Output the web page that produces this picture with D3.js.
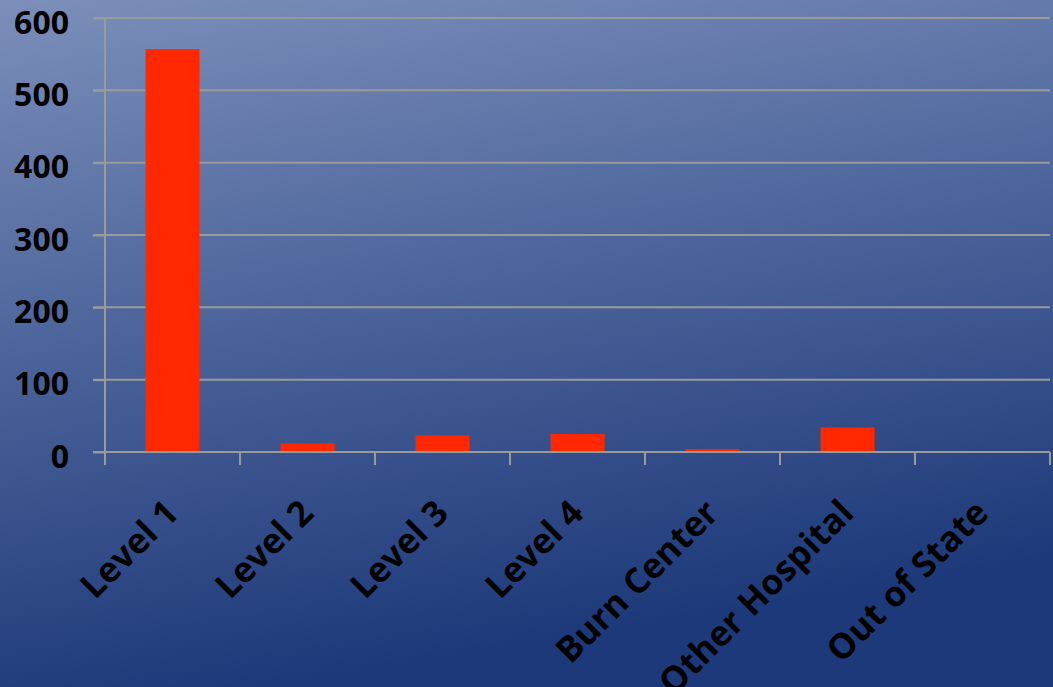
<!DOCTYPE html>
<html><head><meta charset="utf-8">
<script src="https://cdn.jsdelivr.net/npm/d3@7"></script>
<style>html,body{margin:0;padding:0;overflow:hidden;background:#2a4785;}</style>
</head><body>
<svg id="chart" width="1053" height="687"></svg>
<script>
const categories = ["Level 1","Level 2","Level 3","Level 4","Burn Center","Other Hospital","Out of State"];
const values = [557, 12, 23, 25, 4, 34, 0.5];
const yTicks = [0,100,200,300,400,500,600];

const W = 1053, H = 687;
const svg = d3.select("#chart");
const defs = svg.append("defs");
const grad = defs.append("linearGradient").attr("id","bg")
  .attr("x1","0").attr("y1","0").attr("x2","0.25").attr("y2","1");
grad.append("stop").attr("offset","0").attr("stop-color","#7c8fba");
grad.append("stop").attr("offset","0.5").attr("stop-color","#4b639a");
grad.append("stop").attr("offset","1").attr("stop-color","#1d3979");
svg.append("rect").attr("width",W).attr("height",H).attr("fill","url(#bg)");

const x = d3.scaleBand().domain(categories).range([105,1050]).paddingInner(0).paddingOuter(0);
const y = d3.scaleLinear().domain([0,600]).range([452,18]);
const gridColor = "#9a9a9a";

// gridlines
svg.append("g").selectAll("line").data(yTicks.filter(d=>d>0)).join("line")
  .attr("x1",93).attr("x2",1050).attr("y1",d=>y(d)).attr("y2",d=>y(d))
  .attr("stroke",gridColor).attr("stroke-width",2);

// bars
const bw = x.bandwidth()*0.4;
svg.append("g").selectAll("rect").data(values).join("rect")
  .attr("x",(d,i)=>x(categories[i])+x.bandwidth()/2-bw/2)
  .attr("width",bw)
  .attr("y",d=>y(d)).attr("height",d=>y(0)-y(d))
  .attr("fill","#ff2800");

// y axis
const yAxis = svg.append("g").attr("transform","translate(105,0)")
  .call(d3.axisLeft(y).tickValues(yTicks).tickSize(12).tickPadding(24));
yAxis.select(".domain").remove();
yAxis.append("line").attr("x1",0).attr("x2",0).attr("y1",18).attr("y2",465)
  .attr("stroke",gridColor).attr("stroke-width",2);
yAxis.selectAll(".tick line").attr("stroke",gridColor).attr("stroke-width",2);
yAxis.selectAll(".tick text").attr("fill","#000").attr("font-family","Open Sans")
  .attr("font-weight","bold").attr("font-size",32).attr("dy",15);

// x axis
svg.append("line").attr("x1",93).attr("x2",1050).attr("y1",452).attr("y2",452)
  .attr("stroke",gridColor).attr("stroke-width",2);
const edges = categories.map(c=>x(c)).concat([x.range()[1]]);
svg.append("g").selectAll("line").data(edges).join("line")
  .attr("x1",d=>d).attr("x2",d=>d).attr("y1",452).attr("y2",465)
  .attr("stroke",gridColor).attr("stroke-width",2);

svg.append("g").selectAll("text").data(categories).join("text")
  .attr("transform",d=>`translate(${x(d)+x.bandwidth()/2+8},${515}) rotate(-45)`)
  .attr("text-anchor","end")
  .attr("font-family","Open Sans").attr("font-weight","bold").attr("font-size",35)
  .attr("fill","#000")
  .text(d=>d);
</script>
</body></html>
